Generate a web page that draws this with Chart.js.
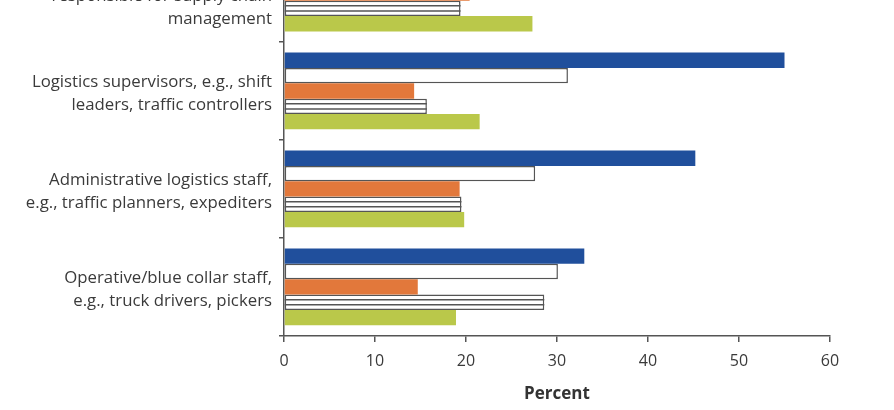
<!DOCTYPE html>
<html>
<head>
<meta charset="utf-8">
<script src="https://cdn.jsdelivr.net/npm/chart.js@4.4.1/dist/chart.umd.min.js"></script>
<style>
    html, body { margin: 0; padding: 0; background: #fff; overflow: hidden; }
    #wrap { position: absolute; left: 0; top: -66px; width: 894px; height: 480px; }
</style>
</head>
<body>
<div id="wrap"><canvas id="staffChart" width="894" height="480"></canvas></div>
<script>
// categories (top one is cut off in the source picture)
const categories = [
    ["Managers", "responsible for supply chain", "management"],
    ["Logistics supervisors, e.g., shift", "leaders, traffic controllers"],
    ["Administrative logistics staff,", "e.g., traffic planners, expediters"],
    ["Operative/blue collar staff,", "e.g., truck drivers, pickers"]
];

const seriesBlue = [48, 55.0, 45.2, 33.0];
const seriesWhite = [30, 31.2, 27.6, 30.1];
const seriesOrange = [20.4, 14.3, 19.3, 14.7];
const seriesStriped = [19.4, 15.7, 19.5, 28.6];
const seriesGreen = [27.3, 21.5, 19.8, 18.9];

const xTicks = [0, 10, 20, 30, 40, 50, 60];

const axisColor = "#555";
const textColor = "#3a3a3a";
const fontFamily = "'Open Sans', 'Noto Sans', sans-serif";

// draws the horizontal stripes inside the hatched bars
const stripePlugin = {
    id: "stripes",
    afterDatasetsDraw(chart) {
        const meta = chart.getDatasetMeta(3);
        const ctx = chart.ctx;
        ctx.save();
        ctx.strokeStyle = axisColor;
        ctx.lineWidth = 1.5;
        meta.data.forEach((bar) => {
            const h = bar.height;
            const left = Math.min(bar.x, bar.base);
            const right = Math.max(bar.x, bar.base);
            [-h / 6, h / 6].forEach((dy) => {
                ctx.beginPath();
                ctx.moveTo(left, bar.y + dy);
                ctx.lineTo(right, bar.y + dy);
                ctx.stroke();
            });
        });
        ctx.restore();
    }
};

function initChart() {
    const ctx = document.getElementById("staffChart").getContext("2d");
    new Chart(ctx, {
        type: "bar",
        data: {
            labels: categories,
            datasets: [
                { label: "Series 1", data: seriesBlue, backgroundColor: "#204f9c", borderWidth: 0 },
                { label: "Series 2", data: seriesWhite, backgroundColor: "#ffffff", borderColor: axisColor, borderWidth: 1.5, borderSkipped: false },
                { label: "Series 3", data: seriesOrange, backgroundColor: "#e2783b", borderWidth: 0 },
                { label: "Series 4", data: seriesStriped, backgroundColor: "#ffffff", borderColor: axisColor, borderWidth: 1.5, borderSkipped: false },
                { label: "Series 5", data: seriesGreen, backgroundColor: "#bac84a", borderWidth: 0 }
            ]
        },
        options: {
            indexAxis: "y",
            responsive: false,
            animation: false,
            datasets: {
                bar: {
                    categoryPercentage: 0.784,
                    barPercentage: 1.0
                }
            },
            layout: {
                padding: { top: 10, right: 64, bottom: 10, left: 0 }
            },
            plugins: {
                legend: { display: false },
                tooltip: { enabled: false }
            },
            scales: {
                x: {
                    min: 0,
                    max: 60,
                    afterBuildTicks: (scale) => {
                        scale.ticks = xTicks.map((v) => ({ value: v }));
                    },
                    grid: {
                        drawOnChartArea: false,
                        drawTicks: true,
                        tickLength: 6,
                        color: axisColor,
                        lineWidth: 1.5
                    },
                    border: { display: true, color: axisColor, width: 1.5 },
                    ticks: {
                        color: textColor,
                        padding: 10,
                        font: { family: fontFamily, size: 16 }
                    },
                    title: {
                        display: true,
                        text: "Percent",
                        color: "#333",
                        font: { family: fontFamily, size: 17, weight: "bold" },
                        padding: { top: 2.5, bottom: 0 }
                    }
                },
                y: {
                    afterFit: (scale) => {
                        scale.width = 284;
                        scale.paddingTop = 0;
                        scale.paddingBottom = 0;
                    },
                    grid: {
                        offset: true,
                        drawOnChartArea: false,
                        drawTicks: true,
                        tickLength: 5,
                        color: axisColor,
                        lineWidth: 1.5
                    },
                    border: { display: true, color: axisColor, width: 1.5 },
                    ticks: {
                        color: textColor,
                        padding: 7,
                        labelOffset: 3,
                        font: { family: fontFamily, size: 16.8, lineHeight: 1.37 }
                    }
                }
            }
        },
        plugins: [stripePlugin]
    });
}

initChart();
</script>
</body>
</html>
